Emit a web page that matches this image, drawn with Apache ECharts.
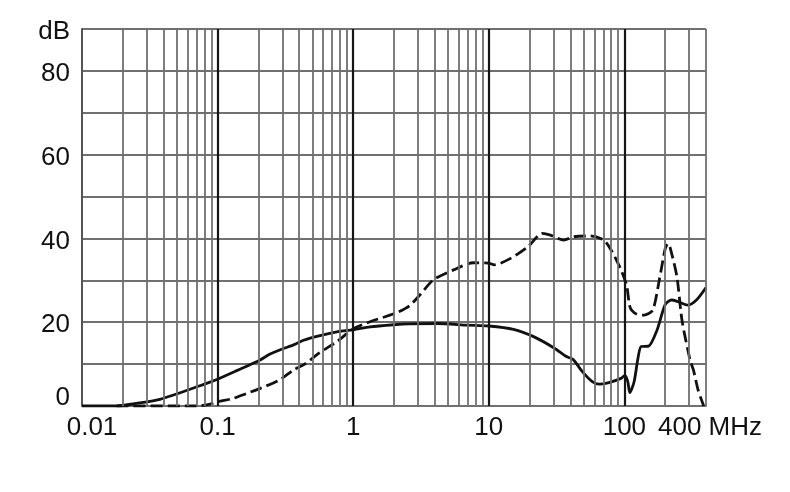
<!DOCTYPE html>
<html>
<head>
<meta charset="utf-8">
<script src="https://cdn.jsdelivr.net/npm/echarts@6/dist/echarts.min.js"></script>
<style>html,body{margin:0;padding:0;background:#fff}#c{width:790px;height:492px}</style>
</head>
<body>
<div id="c"></div>
<script>
// ---- data (frequency in MHz, level in dB) ----
const solidFreq = [0.01,0.018,0.025,0.0375,0.0557,0.075,0.1,0.14,0.206,0.244,0.3,0.363,0.43,0.57,0.81,1.0,1.33,2.0,2.6,4.15,7,10,15.2,21.6,30.5,37.4,41.9,49,58,65,77,94.5,101,106,109.7,118,126,133,151,174,200,223,249,295,340,400];
const solidDb   = [0,0,0.6,1.6,3.4,4.9,6.4,8.5,11,12.4,13.6,14.6,15.7,16.8,17.9,18.2,18.9,19.4,19.6,19.7,19.3,19.1,18.3,16.5,13.8,11.8,11.1,8.2,5.8,5.2,5.6,6.6,7.3,5.8,3.2,5.8,11.4,14.2,14.3,18.1,24.2,25.3,24.9,24.1,25.3,28.3];
const dashFreq  = [0.018,0.07,0.085,0.1,0.13,0.164,0.206,0.289,0.363,0.43,0.57,0.76,1.0,1.33,2.1,2.6,3.1,3.9,5.5,7.7,10,11,14.6,19.4,24.8,28.5,35.7,42.3,56,70.5,80,94.5,104,109,113,124,140,162,181,200,210,218,244,266,305,323,350,385];
const dashDb    = [0,0,0.3,1.0,1.8,3.0,4.2,6.3,8.6,9.8,12.8,15.4,18.4,20.1,22.3,23.9,26.5,30.1,32.5,34.2,34.1,33.7,35.3,38,41.2,40.8,39.6,40.4,40.6,39.6,37.2,32.5,28.7,24.1,22.9,21.9,21.7,22.9,30.1,37.5,38.8,37.7,30.9,20.5,11.0,8.6,3.8,0];
const majorLines = [0.1,1,10,100];
const minorLines = [];
[0.01,0.1,1,10].forEach(d => { for (let k = 2; k <= 9; k++) minorLines.push(+(k*d).toPrecision(3)); });
minorLines.push(200,300,400);
const xTickLabels = {'0.01':'0.01','0.1':'0.1','1':'1','10':'10','100':'100','400':'400 MHz'};
const yTickLabels = {0:'0',20:'20',40:'40',60:'60',80:'80',90:'dB'};

const pair = (xs, ys) => xs.map((x, i) => [x, ys[i]]);
const FONT = "'Liberation Sans', Arial, sans-serif";
const FS = 26;
const GRID = '#707070';

const chart = echarts.init(document.getElementById('c'), null, {renderer:'canvas'});
chart.setOption({
  animation: false,
  backgroundColor: '#fff',
  grid: {left: 82, right: 84, top: 29, bottom: 86},
  xAxis: {
    type: 'log', logBase: 10, min: 0.01, max: 400,
    axisLine: {show: true, lineStyle: {color: GRID, width: 1.8}},
    axisTick: {show: false},
    splitLine: {show: false},
    axisLabel: {
      show: true, margin: 9, color: '#111', fontFamily: FONT, fontSize: FS,
      showMinLabel: true, showMaxLabel: true, hideOverlap: false,
      formatter: v => {
        const key = String(+Number(v).toPrecision(3));
        const t = xTickLabels[key];
        if (t === undefined) return '';
        if (key === '0.01') return '{l|' + t + '}';
        if (key === '400') return '{r|' + t + '}';
        return t;
      },
      rich: {
        l: {padding: [0,0,0,20], fontSize: FS, fontFamily: FONT, color: '#111'},
        r: {padding: [0,0,0,8], fontSize: FS, fontFamily: FONT, color: '#111'}
      }
    }
  },
  yAxis: {
    type: 'value', min: 0, max: 90, interval: 10,
    axisLine: {show: true, lineStyle: {color: '#555', width: 2}},
    axisTick: {show: false},
    splitLine: {show: true, lineStyle: {color: GRID, width: 1.8}},
    axisLabel: {
      margin: 12, color: '#111', fontFamily: FONT, fontSize: FS,
      formatter: v => {
        const t = yTickLabels[v];
        if (t === undefined) return '';
        return v === 0 ? '{z|' + t + '}' : '{n|' + t + '}';
      },
      rich: {
        n: {padding: [6,0,0,0], fontSize: FS, fontFamily: FONT, color: '#111'},
        z: {padding: [0,0,16,0], fontSize: FS, fontFamily: FONT, color: '#111'}
      }
    }
  },
  series: [
    {
      type: 'line', silent: true, z: 1, symbol: 'none',
      data: [[0.01, 0]], lineStyle: {opacity: 0},
      markLine: {
        silent: true, symbol: ['none','none'], label: {show: false}, animation: false,
        data: [
          ...minorLines.map(v => ({xAxis: v, lineStyle: {color: GRID, width: 1.8, type: 'solid'}})),
          ...majorLines.map(v => ({xAxis: v, lineStyle: {color: '#151515', width: 2.2, type: 'solid'}}))
        ]
      }
    },
    {
      type: 'line', z: 3, symbol: 'none', smooth: 0.25,
      data: pair(solidFreq, solidDb),
      lineStyle: {color: '#111', width: 2.8}
    },
    {
      type: 'line', z: 3, symbol: 'none', smooth: 0.25,
      data: pair(dashFreq, dashDb),
      lineStyle: {color: '#111', width: 2.8, type: [12, 5]}
    }
  ]
});
</script>
</body>
</html>
